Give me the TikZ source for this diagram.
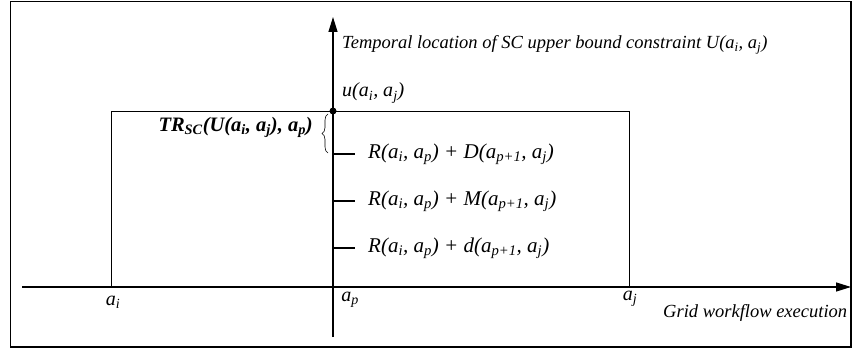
\documentclass[tikz,border=0pt]{standalone}
\usepackage{fontspec}
\setmainfont{Liberation Serif}
\usetikzlibrary{arrows.meta,decorations.pathreplacing}
\newcommand{\sbs}[1]{\textsubscript{#1}}
\begin{document}
\begin{tikzpicture}[x=1pt,y=1pt,
  lbl/.style={inner sep=0pt,font=\fontsize{18.5}{22}\selectfont\itshape},
  big/.style={inner sep=0pt,font=\fontsize{20}{24}\selectfont\itshape},
  tlab/.style={inner sep=0pt,font=\fontsize{21}{25}\selectfont\itshape},
  axis/.style={line width=1.3pt,-{Triangle[length=15pt,width=9pt]}},
  tickline/.style={line width=1.3pt}]
\useasboundingbox (0,0) rectangle (852,349);
\draw[line width=1.5pt] (10.5,2) rectangle (851,347.5);
% box
\draw[line width=1pt] (111,62) rectangle (629,238);
% axes
\coordinate (xs) at (22,62);
\coordinate (xe) at (851,62);
\coordinate (ys) at (333,12);
\coordinate (ye) at (333,332);
\draw[axis] (xs) -- (xe);
\draw[axis] (ys) -- (ye);
\fill (333,238) circle (3.5pt) coordinate (dot);
% labels
\node[lbl,anchor=west] (tl) at (342,304) {Temporal location of SC upper bound constraint U(a\sbs{i}, a\sbs{j})};
\node[big,anchor=west] (u) at (342,256) {u(a\sbs{i}, a\sbs{j})};
\node[inner sep=0pt,anchor=east,font=\fontsize{20.5}{24}\selectfont\bfseries\itshape] (tr) at (313,222) {TR\sbs{SC}(U(a\sbs{i}, a\sbs{j}), a\sbs{p})};
\draw[line width=0.6pt,decorate,decoration={brace,amplitude=6pt}] (328,196) -- (328,235);
% ticks
\coordinate (t1) at (333,195);
\coordinate (t2) at (333,148);
\coordinate (t3) at (333,101);
\draw[tickline] (t1) -- ++(22,0);
\draw[tickline] (t2) -- ++(22,0);
\draw[tickline] (t3) -- ++(22,0);
\node[tlab,anchor=west] (l1) at (368,195) {R(a\sbs{i}, a\sbs{p}) + D(a\sbs{p+1}, a\sbs{j})};
\node[tlab,anchor=west] (l2) at (368,148) {R(a\sbs{i}, a\sbs{p}) + M(a\sbs{p+1}, a\sbs{j})};
\node[tlab,anchor=west] (l3) at (368,101) {R(a\sbs{i}, a\sbs{p}) + d(a\sbs{p+1}, a\sbs{j})};
% axis labels
\node[big] (ai) at (113,47) {a\sbs{i}};
\node[big] (ap) at (350,49) {a\sbs{p}};
\node[big] (aj) at (630,50) {a\sbs{j}};
\node[lbl,anchor=west] (gw) at (663,36) {Grid workflow execution};
\end{tikzpicture}
\end{document}
